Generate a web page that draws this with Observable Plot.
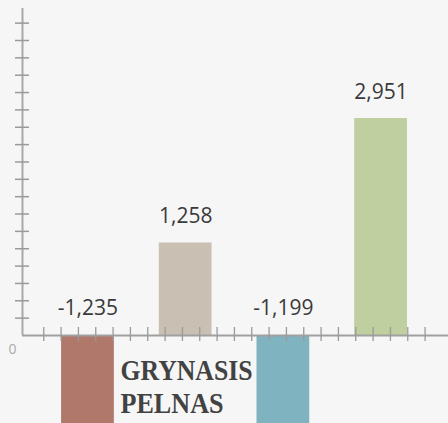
<!DOCTYPE html>
<html>
<head>
<meta charset="utf-8">
<script src="https://cdn.jsdelivr.net/npm/d3@7"></script>
<script src="https://cdn.jsdelivr.net/npm/@observablehq/plot@0.6"></script>
<style>
  html, body { margin: 0; padding: 0; background: #f6f6f6; overflow: hidden; }
  #chart svg { display: block; background: #f6f6f6; }
</style>
</head>
<body>
<div id="chart"></div>
<script>
// Data
const categories = ["1", "2", "3", "4"];
const values = [-1235, 1258, -1199, 2951];
const valueLabels = ["-1,235", "1,258", "-1,199", "2,951"];
const colors = ["#b0776b", "#c9c0b3", "#80b3c0", "#bfcf9f"];
const titleLines = ["GRYNASIS", "PELNAS"];
const titleWidths = [132, 103];
const zeroLabel = ["0"];

const data = categories.map((c, i) => ({ i, category: c, value: values[i], label: valueLabels[i], color: colors[i] }));

// decorative axis ticks (in data units)
const yTickStep = 236;
const yTicks = d3.range(1, 19).map(k => k * yTickStep);
const xTickStart = -0.4524, xTickStep = 0.1774;
const xTicks = d3.range(0, 23).map(j => xTickStart + j * xTickStep);

const xDomain = [-0.67, 3.69];
const yDomain = [-1197, 4556];
const barHalf = 0.27;

const plot = Plot.plot({
  width: 448,
  height: 423,
  marginLeft: 22,
  marginRight: 0,
  marginTop: 0,
  marginBottom: 0,
  style: { background: "#f6f6f6", overflow: "hidden" },
  x: { type: "linear", domain: xDomain, axis: null },
  y: { type: "linear", domain: yDomain, axis: null },
  marks: [
    Plot.rectY(data, { x1: d => d.i - barHalf, x2: d => d.i + barHalf, y: "value", fill: "color", clip: true }),
    // y axis line
    Plot.ruleX([xDomain[0]], { y1: 0, y2: 4447, stroke: "#a8a8a8", strokeWidth: 2 }),
    // y ticks
    Plot.ruleY(yTicks, { x1: -0.7416, x2: -0.5984, stroke: "#9a9a9a", strokeWidth: 1.5 }),
    // x axis line
    Plot.ruleY([0], { stroke: "#a0a0a0", strokeWidth: 2 }),
    // x ticks
    Plot.ruleX(xTicks, { y1: -82, y2: 109, stroke: "#9a9a9a", strokeWidth: 1.3 }),
    // value labels
    Plot.text(data, {
      x: "i", y: d => Math.max(0, d.value), text: "label",
      textAnchor: "middle", lineAnchor: "bottom", dy: -20,
      fontFamily: "Open Sans", fontSize: 21, fill: "#3a3a3a"
    }),
    // zero label
    Plot.text(zeroLabel, {
      frameAnchor: "bottom-left", text: d => d, dx: -10, dy: -70,
      textAnchor: "middle", lineAnchor: "bottom",
      fontFamily: "Open Sans", fontSize: 14, fill: "#aaaaaa"
    }),
    // title lines
    Plot.text([titleLines[0]], {
      frameAnchor: "bottom-left", text: d => d, dx: 98, dy: -44,
      textAnchor: "start", lineAnchor: "bottom",
      fontFamily: "Liberation Serif", fontWeight: "bold", fontSize: 30, fill: "#424242"
    }),
    Plot.text([titleLines[1]], {
      frameAnchor: "bottom-left", text: d => d, dx: 98, dy: -11,
      textAnchor: "start", lineAnchor: "bottom",
      fontFamily: "Liberation Serif", fontWeight: "bold", fontSize: 30, fill: "#424242"
    })
  ]
});

d3.select(plot).selectAll("text").each(function () {
  const idx = titleLines.indexOf(this.textContent);
  if (idx >= 0) {
    d3.select(this).attr("textLength", titleWidths[idx]).attr("lengthAdjust", "spacingAndGlyphs");
  }
});

document.getElementById("chart").appendChild(plot);
</script>
</body>
</html>
